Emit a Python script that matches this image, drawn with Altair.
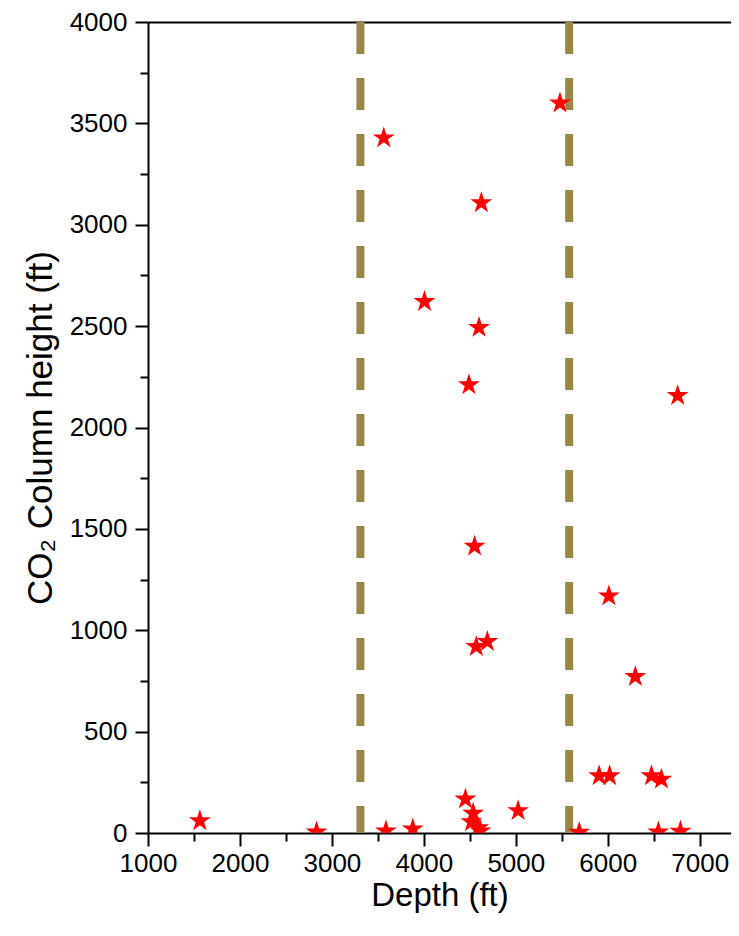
import altair as alt
import pandas as pd

# Data
depth = [1564, 2833, 3588, 3880, 3564, 4007, 4490, 4625, 4600, 4552, 4570, 4690,
         4452, 4536, 4518, 4590, 4615, 5025, 5480, 5690, 5906, 6020, 6012, 6300,
         6475, 6583, 6550, 6790, 6760]
height = [60, 5, 10, 20, 3428, 2621, 2210, 3108, 2493, 1414, 919, 944,
          167, 97, 55, 25, 10, 110, 3600, 3, 282, 282, 1169, 771,
          282, 265, 5, 8, 2157]
cutoffs = [3310, 5580]

x_major = [1000, 2000, 3000, 4000, 5000, 6000, 7000]
x_minor = [1500, 2500, 3500, 4500, 5500, 6500]
y_major = [0, 500, 1000, 1500, 2000, 2500, 3000, 3500, 4000]
y_minor = [250, 750, 1250, 1750, 2250, 2750, 3250, 3750]

df = pd.DataFrame({"depth": depth, "height": height})
cut_df = pd.DataFrame({"depth": cutoffs})

FONT = "Liberation Sans"
STAR = ("M0,-1L0.2245,-0.309L0.9511,-0.309L0.3633,0.118L0.5878,0.809L0,0.382"
        "L-0.5878,0.809L-0.3633,0.118L-0.9511,-0.309L-0.2245,-0.309Z")

xscale = alt.Scale(domain=[1000, 7340], nice=False, zero=False)
yscale = alt.Scale(domain=[0, 4000], nice=False)

common = dict(domainColor="black", domainWidth=2, tickColor="black", tickWidth=2,
              grid=False, labelFont=FONT, titleFont=FONT, labelColor="black",
              titleColor="black", labelFlush=False, labelOverlap=False,
              titleFontWeight="normal")

x_axis_major = alt.Axis(orient="bottom", values=x_major, tickSize=13, labelFontSize=26,
                        labelPadding=4, title="Depth (ft)", titleFontSize=33,
                        titlePadding=3, format="d", **common)
y_axis_major = alt.Axis(orient="left", values=y_major, tickSize=13, labelFontSize=26,
                        labelPadding=8, title="CO₂ Column height (ft)", titleFontSize=35,
                        titlePadding=11, format="d", **common)
x_axis_minor = alt.Axis(orient="bottom", values=x_minor, tickSize=8, labels=False,
                        domain=False, title=None, tickColor="black", tickWidth=2, grid=False)
y_axis_minor = alt.Axis(orient="left", values=y_minor, tickSize=8, labels=False,
                        domain=False, title=None, tickColor="black", tickWidth=2, grid=False)
x_axis_top = alt.Axis(orient="top", ticks=False, labels=False, domainColor="black",
                      domainWidth=2, title=None, grid=False)

rules = alt.Chart(cut_df).mark_rule(color="#9A8646", strokeWidth=8,
                                    strokeDash=[32, 24], strokeCap="butt").encode(
    x=alt.X("depth:Q", scale=xscale, axis=None)
)

points = alt.Chart(df).mark_point(shape=STAR, filled=True, size=530, color="#FF0000",
                                  opacity=1, strokeWidth=0, clip=True).encode(
    x=alt.X("depth:Q", scale=xscale, axis=x_axis_major),
    y=alt.Y("height:Q", scale=yscale, axis=y_axis_major),
)

minor = alt.Chart(df).mark_point(opacity=0).encode(
    x=alt.X("depth:Q", scale=xscale, axis=x_axis_minor),
    y=alt.Y("height:Q", scale=yscale, axis=y_axis_minor),
)

top = alt.Chart(df).mark_point(opacity=0).encode(
    x=alt.X("depth:Q", scale=xscale, axis=x_axis_top),
    y=alt.Y("height:Q", scale=yscale, axis=None),
)

chart = alt.layer(rules, minor, top, points).resolve_axis(
    x="independent", y="independent"
).properties(
    width=583, height=811,
    autosize=alt.AutoSizeParams(type="none"),
    padding={"left": 140, "top": 14, "right": 0, "bottom": 88},
).configure_view(stroke=None)

chart.save("out.html", embed_options={"renderer": "svg", "actions": False})
